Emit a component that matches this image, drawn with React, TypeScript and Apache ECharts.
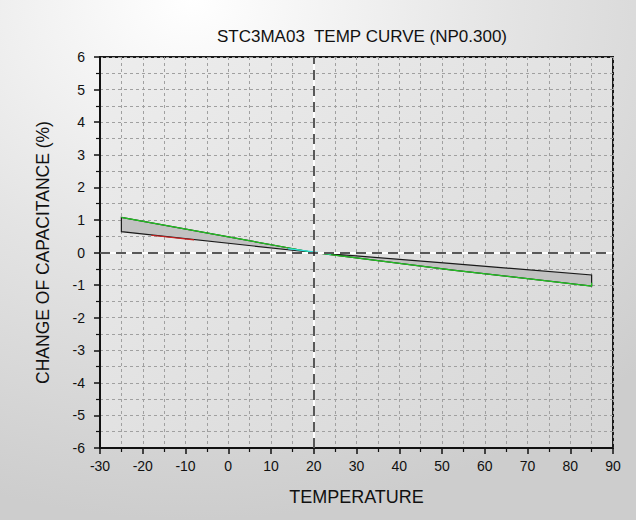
import React, { useEffect, useRef } from "react";
import * as echarts from "echarts";

const TITLE = "STC3MA03  TEMP CURVE (NP0.300)";
const X_NAME = "TEMPERATURE";
const Y_NAME = "CHANGE OF CAPACITANCE (%)";

// band outline: upper edge and lower edge (temperature, % change)
const bandTemps = [-25, 20, 52.5, 85];
const bandUpper = [1.08, 0, -0.34, -0.69];
const bandLower = [0.64, 0, -0.54, -1.03];

// typical curve (green)
const greenTemps = [-25, 20, 52.5, 85, 85];
const greenValues = [1.08, 0, -0.54, -1.03, -0.93];
// short red trace
const redTemps = [-18, -8];
const redValues = [0.53, 0.39];
// short cyan trace
const cyanTemps = [14, 24];
const cyanValues = [0.12, -0.05];

const REF_X = 20;
const REF_Y = 0;

const FONT = "'Liberation Sans', Arial, sans-serif";

export default function App() {
  const ref = useRef<HTMLDivElement>(null);
  useEffect(() => {
    if (!ref.current) return;
    const chart = echarts.init(ref.current, undefined, { renderer: "svg" });

    const poly: number[][] = [];
    bandTemps.forEach((t, i) => poly.push([t, bandUpper[i]]));
    for (let i = bandTemps.length - 1; i >= 0; i--) poly.push([bandTemps[i], bandLower[i]]);

    const gridLine = { show: true, lineStyle: { color: "#a0a0a0", type: [3, 3] as any, width: 1 } };

    chart.setOption({
      animation: false,
      backgroundColor: {
        type: "radial",
        x: 0.3,
        y: 0,
        r: 1.0,
        colorStops: [
          { offset: 0, color: "#ffffff" },
          { offset: 0.5, color: "#e4e4e4" },
          { offset: 1, color: "#cdcdcd" },
        ],
      },
      title: {
        text: TITLE,
        left: 357,
        textAlign: "center",
        top: 23,
        textStyle: { fontFamily: FONT, fontSize: 17, fontWeight: "normal", color: "#111" },
      },
      grid: {
        left: 100,
        right: 23,
        top: 57,
        bottom: 72,
        show: true,
        borderColor: "#1a1a1a",
        borderWidth: 2,
        backgroundColor: {
          type: "linear",
          x: 0,
          y: 0,
          x2: 1,
          y2: 1,
          colorStops: [
            { offset: 0, color: "#ededed" },
            { offset: 1, color: "#d6d6d6" },
          ],
        },
      },
      xAxis: {
        type: "value",
        min: -30,
        max: 90,
        interval: 10,
        name: X_NAME,
        nameLocation: "middle",
        nameGap: 40,
        nameTextStyle: { fontFamily: FONT, fontSize: 18, color: "#111" },
        axisLine: { show: true, onZero: false, lineStyle: { color: "#111", width: 2 } },
        axisTick: { show: true, length: 6, lineStyle: { color: "#111", width: 1.5 } },
        minorTick: { show: true, splitNumber: 2, length: 4, lineStyle: { color: "#111", width: 1.2 } },
        axisLabel: { fontFamily: FONT, fontSize: 14, color: "#111", margin: 11 },
        splitLine: gridLine,
        minorSplitLine: gridLine,
      },
      yAxis: {
        type: "value",
        min: -6,
        max: 6,
        interval: 1,
        name: Y_NAME,
        nameLocation: "middle",
        nameGap: 48,
        nameTextStyle: { fontFamily: FONT, fontSize: 17.5, color: "#111" },
        axisLine: { show: true, onZero: false, lineStyle: { color: "#111", width: 2 } },
        axisTick: { show: true, length: 6, lineStyle: { color: "#111", width: 1.5 } },
        minorTick: { show: true, splitNumber: 2, length: 4, lineStyle: { color: "#111", width: 1.2 } },
        axisLabel: { fontFamily: FONT, fontSize: 14, color: "#111", margin: 15 },
        splitLine: gridLine,
        minorSplitLine: gridLine,
      },
      series: [
        {
          type: "custom",
          silent: true,
          data: [0],
          z: 3,
          renderItem: (_params: any, api: any) => ({
            type: "polygon",
            shape: { points: poly.map((p) => api.coord(p)) },
            style: { fill: "#c2c2c2", stroke: "#1a1a1a", lineWidth: 1.2 },
          }),
        },
        {
          type: "line",
          data: greenTemps.map((t, i) => [t, greenValues[i]]),
          showSymbol: false,
          lineStyle: { color: "#22c422", width: 1.2 },
          z: 4,
          silent: true,
        },
        {
          type: "line",
          data: redTemps.map((t, i) => [t, redValues[i]]),
          showSymbol: false,
          lineStyle: { color: "#d02020", width: 1.2 },
          z: 4,
          silent: true,
        },
        {
          type: "line",
          data: cyanTemps.map((t, i) => [t, cyanValues[i]]),
          showSymbol: false,
          lineStyle: { color: "#30e0e0", width: 1.2 },
          z: 4,
          silent: true,
        },
        {
          type: "line",
          data: [],
          z: 2,
          markLine: {
            silent: true,
            symbol: "none",
            label: { show: false },
            lineStyle: { color: "#ffffff", type: "solid", width: 2 },
            data: [{ xAxis: REF_X }, { yAxis: REF_Y }],
          },
        },
        {
          type: "line",
          data: [],
          z: 2,
          markLine: {
            silent: true,
            symbol: "none",
            label: { show: false },
            lineStyle: { color: "#222222", type: [10, 6], width: 1.5 },
            data: [{ xAxis: REF_X }, { yAxis: REF_Y }],
          },
        },
      ],
    });
    return () => chart.dispose();
  }, []);
  return <div ref={ref} style={{ width: 636, height: 520, position: "absolute", left: 0, top: 0 }} />;
}
